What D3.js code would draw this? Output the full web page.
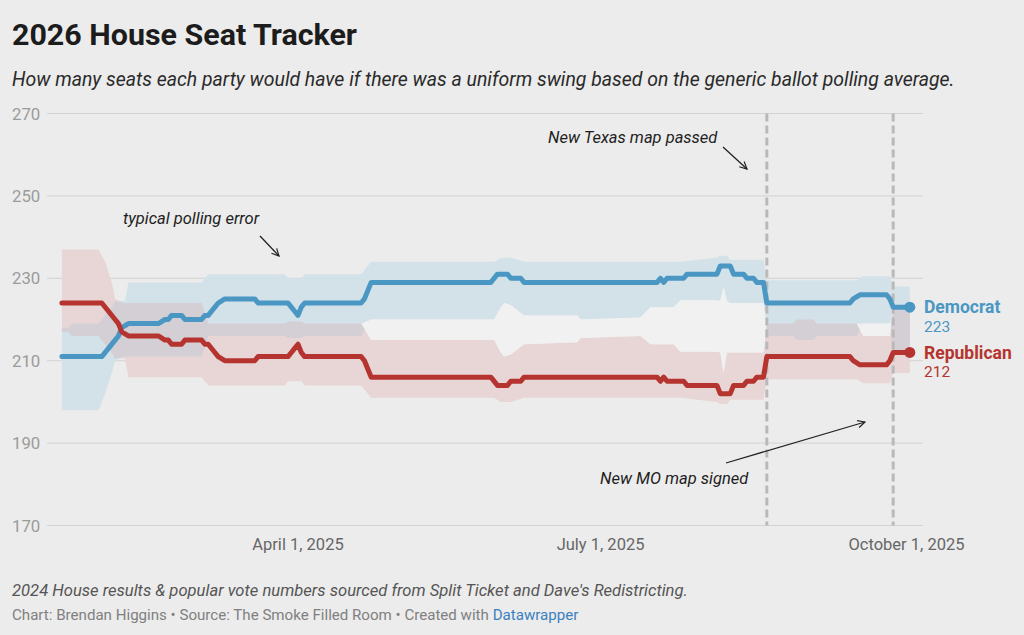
<!DOCTYPE html>
<html>
<head>
<meta charset="utf-8">
<script src="https://cdn.jsdelivr.net/npm/d3@7"></script>
<style>
body{margin:0;background:#ececec;font-family:Roboto,"Noto Sans",sans-serif;}
svg{display:block;}
</style>
</head>
<body>
<svg id="chart" width="1024" height="635"></svg>
<script>
// seat counts under a uniform swing
var lineDates = ["2025-01-20","2025-02-01","2025-02-03","2025-02-05","2025-02-06","2025-02-07","2025-02-09",
  "2025-02-18","2025-02-20","2025-02-21","2025-02-22","2025-02-25","2025-02-26","2025-03-03","2025-03-04",
  "2025-03-05","2025-03-07","2025-03-08","2025-03-10","2025-03-19","2025-03-20","2025-03-29","2025-03-30",
  "2025-03-31","2025-04-01","2025-04-02","2025-04-03","2025-04-20","2025-04-21","2025-04-22","2025-04-23",
  "2025-05-29","2025-05-31","2025-06-03","2025-06-04","2025-06-07","2025-06-08","2025-07-18","2025-07-19",
  "2025-07-20","2025-07-21","2025-07-26","2025-07-27","2025-08-05","2025-08-06","2025-08-09","2025-08-10",
  "2025-08-13","2025-08-14","2025-08-16","2025-08-17","2025-08-19","2025-08-20","2025-09-14","2025-09-15",
  "2025-09-17","2025-09-25","2025-09-26","2025-09-27","2025-10-02"];
var demSeats = [211,211,213,215,216,218,219,
  219,220,220,221,221,220,220,221,
  221,223,224,225,225,224,224,223,
  222,221,223,224,224,225,227,229,
  229,231,231,230,230,229,229,230,
  229,230,230,231,231,233,233,231,
  231,230,230,229,229,224,224,225,
  226,226,225,223,223];
var repSeats = [224,224,222,220,219,217,216,
  216,215,215,214,214,215,215,214,
  214,212,211,210,210,211,211,212,
  213,214,212,211,211,210,208,206,
  206,204,204,205,205,206,206,205,
  206,205,205,204,204,202,202,204,
  204,205,205,206,206,211,211,210,
  209,209,210,212,212];

// typical polling error ranges
var bandDates = ["2025-01-20","2025-01-22","2025-01-23","2025-01-31","2025-02-02","2025-02-04","2025-02-05",
  "2025-02-08","2025-02-09","2025-03-03","2025-03-05","2025-03-28","2025-03-29","2025-04-02","2025-04-03",
  "2025-04-20","2025-04-23","2025-05-30","2025-06-01","2025-06-02","2025-06-04","2025-06-08","2025-06-24",
  "2025-06-25","2025-07-13","2025-07-16","2025-07-23","2025-07-25","2025-08-05","2025-08-06","2025-08-07",
  "2025-08-08","2025-08-09","2025-08-19","2025-08-20","2025-08-28","2025-08-29","2025-09-03","2025-09-04",
  "2025-09-16","2025-09-18","2025-09-26","2025-09-27","2025-10-02"];
var demLow  = [198,198,198,198,202,207,210,
  211,211,211,216,216,215.5,215.5,216,
  216,220,220,223,224,223.5,221,221,
  220,220.5,223,223,224.7,224.7,224.5,228,
  224.5,224,224,216,216,215,215,216,
  216,219,219,212,212];
var demHigh = [218,218,219,219,221,223,224.5,
  224.5,229,229,231,231,230,230,231,
  231,234,234,235,235,235,234,234,
  234,234,234,234,234,235,235.5,235.5,
  235.5,234.5,234.5,229.5,229.5,229.5,229.5,229.5,
  229.5,230.5,230.5,228,228];
var repLow  = [217,217,216,216,214,212,210.5,
  210.5,206,206,204,204,205,205,204,
  204,201,201,200,200,200,201,201,
  201,201,201,201,201,200,199.5,199.5,
  199.5,200.5,200.5,205.5,205.5,205.5,205.5,205.5,
  205.5,204.5,204.5,207,207];
var repHigh = [237,237,237,237,234,229,225,
  224,224,224,219,219,219.5,219.5,219,
  219,215,215,212,211,211.5,214,214.5,
  215.5,216,214,214,212.2,212.2,212,207,
  212,212,212,219,219,220,220,219,
  219,216,216,223,223];

var yTicks = [170, 190, 210, 230, 250, 270];
var xTicks = ["2025-04-01", "2025-07-01", "2025-10-01"];
var xTickLabels = ["April 1, 2025", "July 1, 2025", "October 1, 2025"];
var eventDates = ["2025-08-20", "2025-09-27"];

var DEM = "#4a97c3", REP = "#b5342f";

var svg = d3.select("#chart");
var parse = d3.utcParse("%Y-%m-%d");

var x = d3.scaleUtc()
  .domain([parse("2025-01-20"), parse("2025-10-02")])
  .range([61.9, 909.8]);
var y = d3.scaleLinear().domain([170, 270]).range([525.5, 113.5]);

// title block
svg.append("text").attr("x", 12).attr("y", 45)
  .style("font-size", "30.4px").style("font-weight", 700).attr("fill", "#1c1c1c")
  .text("2026 House Seat Tracker");
svg.append("text").attr("x", 12).attr("y", 85.5)
  .style("font-size", "19.45px").style("font-style", "italic").attr("fill", "#2a2a2a")
  .text("How many seats each party would have if there was a uniform swing based on the generic ballot polling average.");

// grid
svg.append("g").selectAll("line").data(yTicks).join("line")
  .attr("x1", 47).attr("x2", 923)
  .attr("y1", function(d){ return y(d); }).attr("y2", function(d){ return y(d); })
  .attr("stroke", "#d3d3d3").attr("stroke-width", 1);
svg.append("g").selectAll("text").data(yTicks).join("text")
  .attr("x", 12).attr("y", function(d){ return y(d) + 6; })
  .style("font-size", "16.8px").attr("fill", "#9b9b9b")
  .text(function(d){ return d; });

svg.append("g").selectAll("text").data(xTicks).join("text")
  .attr("x", function(d){ return x(parse(d)); }).attr("y", 549.5)
  .attr("text-anchor", "middle").style("font-size", "16.5px").attr("fill", "#666")
  .text(function(d, i){ return xTickLabels[i]; });

// bands
var band = bandDates.map(function(d, i){
  return {date: parse(d), dLo: demLow[i], dHi: demHigh[i], rLo: repLow[i], rHi: repHigh[i]};
});
function area(lo, hi){
  return d3.area().x(function(d){ return x(d.date); })
    .y0(function(d){ return y(lo(d)); }).y1(function(d){ return y(hi(d)); });
}
svg.append("path").datum(band).attr("fill", "#e8d5d5")
  .attr("d", area(function(d){ return d.rLo; }, function(d){ return d.rHi; }));
svg.append("path").datum(band).attr("fill", "#d3e1e9")
  .attr("d", area(function(d){ return d.dLo; }, function(d){ return d.dHi; }));
// where the two ranges overlap
svg.append("path").datum(band).attr("fill", "#d3cfd4")
  .attr("d", area(function(d){ return Math.max(d.dLo, d.rLo); },
                  function(d){ return Math.max(Math.max(d.dLo, d.rLo), Math.min(d.dHi, d.rHi)); }));
// gap between the ranges
svg.append("path").datum(band).attr("fill", "#f1f1f1")
  .attr("d", area(function(d){ return Math.min(d.dHi, d.rHi); },
                  function(d){ return Math.max(Math.max(d.dLo, d.rLo), Math.min(d.dHi, d.rHi)); }));

// event markers
svg.append("g").selectAll("line").data(eventDates).join("line")
  .attr("x1", function(d){ return x(parse(d)); }).attr("x2", function(d){ return x(parse(d)); })
  .attr("y1", 113.5).attr("y2", 525.5)
  .attr("stroke", "#b9b9b9").attr("stroke-width", 3).attr("stroke-dasharray", "8,4");

// lines
var pts = lineDates.map(function(d, i){ return {date: parse(d), dem: demSeats[i], rep: repSeats[i]}; });
var series = [{key: "dem", color: DEM}, {key: "rep", color: REP}];
series.forEach(function(s){
  var line = d3.line().x(function(d){ return x(d.date); }).y(function(d){ return y(d[s.key]); });
  svg.append("path").datum(pts).attr("fill", "none").attr("stroke", s.color)
    .attr("stroke-width", 5).attr("stroke-linejoin", "round").attr("stroke-linecap", "round")
    .attr("d", line);
  var last = pts[pts.length - 1];
  svg.append("circle").attr("cx", x(last.date)).attr("cy", y(last[s.key])).attr("r", 5.5).attr("fill", s.color);
});

var lastPt = pts[pts.length - 1];
var labels = [
  {name: "Democrat", val: lastPt.dem, color: DEM},
  {name: "Republican", val: lastPt.rep, color: REP}
];
labels.forEach(function(l){
  var cy = y(l.val);
  svg.append("text").attr("x", 924).attr("y", cy + 6.3)
    .style("font-size", "17.5px").style("font-weight", 700).attr("fill", l.color).text(l.name);
  svg.append("text").attr("x", 924).attr("y", cy + 25)
    .style("font-size", "15.5px").attr("fill", l.color).text(l.val);
});

// annotations
var defs = svg.append("defs");
defs.append("marker").attr("id", "arrow").attr("viewBox", "0 0 10 10")
  .attr("refX", 9).attr("refY", 5).attr("markerWidth", 9).attr("markerHeight", 9)
  .attr("markerUnits", "userSpaceOnUse").attr("orient", "auto")
  .append("path").attr("d", "M1,1 L9,5 L1,9").attr("fill", "none").attr("stroke", "#222").attr("stroke-width", 1.3);

var notes = [
  {text: "typical polling error", tx: 123, ty: 224, a: [260, 236, 279, 256]},
  {text: "New Texas map passed", tx: 548, ty: 143, a: [723, 147, 747, 169]},
  {text: "New MO map signed", tx: 600, ty: 484, a: [726, 463, 865, 422]}
];
notes.forEach(function(n){
  svg.append("text").attr("x", n.tx).attr("y", n.ty)
    .style("font-size", "16.5px").style("font-style", "italic").attr("fill", "#1e1e1e").text(n.text);
  svg.append("line").attr("x1", n.a[0]).attr("y1", n.a[1]).attr("x2", n.a[2]).attr("y2", n.a[3])
    .attr("stroke", "#222").attr("stroke-width", 1.3).attr("marker-end", "url(#arrow)");
});

// footer
svg.append("text").attr("x", 12).attr("y", 596)
  .style("font-size", "16.6px").style("font-style", "italic").attr("fill", "#555")
  .text("2024 House results & popular vote numbers sourced from Split Ticket and Dave's Redistricting.");
var credit = svg.append("text").attr("x", 12).attr("y", 620).style("font-size", "15.1px").attr("fill", "#808080");
credit.append("tspan").text("Chart: Brendan Higgins \u2022 Source: The Smoke Filled Room \u2022 Created with ");
credit.append("tspan").attr("fill", "#3b80c0").text("Datawrapper");
</script>
</body>
</html>
